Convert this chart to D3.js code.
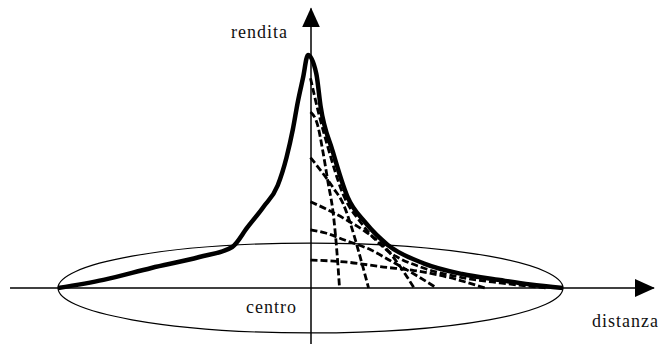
<!DOCTYPE html>
<html>
<head>
<meta charset="utf-8">
<script src="https://d3js.org/d3.v7.min.js"></script>
<style>
    body {margin: 0; background: #fff;}
    text {font-family: "Liberation Serif", "Times New Roman", serif; font-size: 18px; letter-spacing: 1px; fill: #111;}
</style>
</head>
<body>
<svg width="662" height="345"></svg>
<script>
    // distance from the centre (x) and rent (y)
    const mainCurve = [
        [-100, 0], [-82, 3.5], [-63, 8.6], [-44, 13.3], [-31, 17.6], [-25, 26],
        [-18.5, 35], [-13, 44], [-9.5, 56], [-7, 68], [-5, 80], [-3, 90], [-1, 100],
        [2.3, 92], [4, 78], [8.7, 59], [14.7, 39], [21.8, 28], [30.6, 18.5],
        [45, 10.5], [60, 6], [75, 3.4], [87, 1.5], [100, 0]
    ];
    // bid-rent lines of the single uses (dashed)
    const rentLine1 = [[0, 75.5], [2.8, 70], [5, 58], [7, 45], [9, 32], [10.5, 15], [11.5, 0]];
    const rentLine2 = [[0, 56], [4, 50.5], [9, 43], [13, 36], [16, 27], [19.5, 14], [23, 0]];
    const rentLine3 = [[0, 37], [6, 34], [13, 30], [22, 24], [29, 18], [35, 10], [41, 0]];
    const rentLine4 = [[0, 25], [6, 23.6], [13.5, 20.6], [24, 16.3], [32, 11.5], [41, 6], [50, 0]];
    const rentLine5 = [[0, 12], [13.5, 11.2], [29, 9], [41, 7.5], [55, 4.5], [69, 0]];
    const rentLine6 = [[0, 90], [3, 76], [7, 60], [13, 40], [20, 28], [30, 16.5], [45, 8.5], [60, 4.5], [75, 2.2], [88, 0.6], [94, 0]];
    const rentLines = [rentLine1, rentLine2, rentLine3, rentLine4, rentLine5, rentLine6];

    const xAxisExtent = [-119, 136];
    const yAxisExtent = [-24, 120];
    const ellipseRadius = [100, 19.3];

    const labels = [
        {text: "rendita", x: -31.5, y: 107.5},
        {text: "centro", x: -25.5, y: -10.7},
        {text: "distanza", x: 111.5, y: -16.7}
    ];

    const svg = d3.select("svg");

    const x = d3.scaleLinear().domain([-100, 100]).range([58, 563]);
    const y = d3.scaleLinear().domain([0, 100]).range([288, 55]);

    // arrow heads
    const defs = svg.append("defs");
    defs.append("marker")
        .attr("id", "arrow")
        .attr("viewBox", "0 0 20 18")
        .attr("refX", 19)
        .attr("refY", 9)
        .attr("markerWidth", 20)
        .attr("markerHeight", 18)
        .attr("markerUnits", "userSpaceOnUse")
        .attr("orient", "auto")
        .append("path")
        .attr("d", "M0,0 L20,9 L0,18 Z")
        .attr("fill", "#000");

    // ellipse of the city area
    svg.append("ellipse")
        .attr("cx", x(0))
        .attr("cy", y(0))
        .attr("rx", x(ellipseRadius[0]) - x(0))
        .attr("ry", y(0) - y(ellipseRadius[1]))
        .attr("fill", "none")
        .attr("stroke", "#000")
        .attr("stroke-width", 1.2);

    // axes
    svg.append("line")
        .attr("x1", x(xAxisExtent[0])).attr("y1", y(0))
        .attr("x2", x(xAxisExtent[1])).attr("y2", y(0))
        .attr("stroke", "#000").attr("stroke-width", 1.5)
        .attr("marker-end", "url(#arrow)");

    svg.append("line")
        .attr("x1", x(0) + 0.5).attr("y1", y(yAxisExtent[0]))
        .attr("x2", x(0) + 0.5).attr("y2", y(yAxisExtent[1]))
        .attr("stroke", "#000").attr("stroke-width", 1.5)
        .attr("marker-end", "url(#arrow)");

    const line = d3.line()
        .x(d => x(d[0]))
        .y(d => y(d[1]))
        .curve(d3.curveMonotoneX);

    // dashed bid-rent lines
    svg.append("g")
        .selectAll("path")
        .data(rentLines)
        .join("path")
        .attr("d", line)
        .attr("fill", "none")
        .attr("stroke", "#000")
        .attr("stroke-width", 2.8)
        .attr("stroke-dasharray", "7,3");

    // overall rent curve
    svg.append("path")
        .datum(mainCurve)
        .attr("d", line)
        .attr("fill", "none")
        .attr("stroke", "#000")
        .attr("stroke-width", 4.5)
        .attr("stroke-linejoin", "round");

    svg.append("g")
        .selectAll("text")
        .data(labels)
        .join("text")
        .attr("x", d => x(d.x))
        .attr("y", d => y(d.y))
        .text(d => d.text);
</script>
</body>
</html>
